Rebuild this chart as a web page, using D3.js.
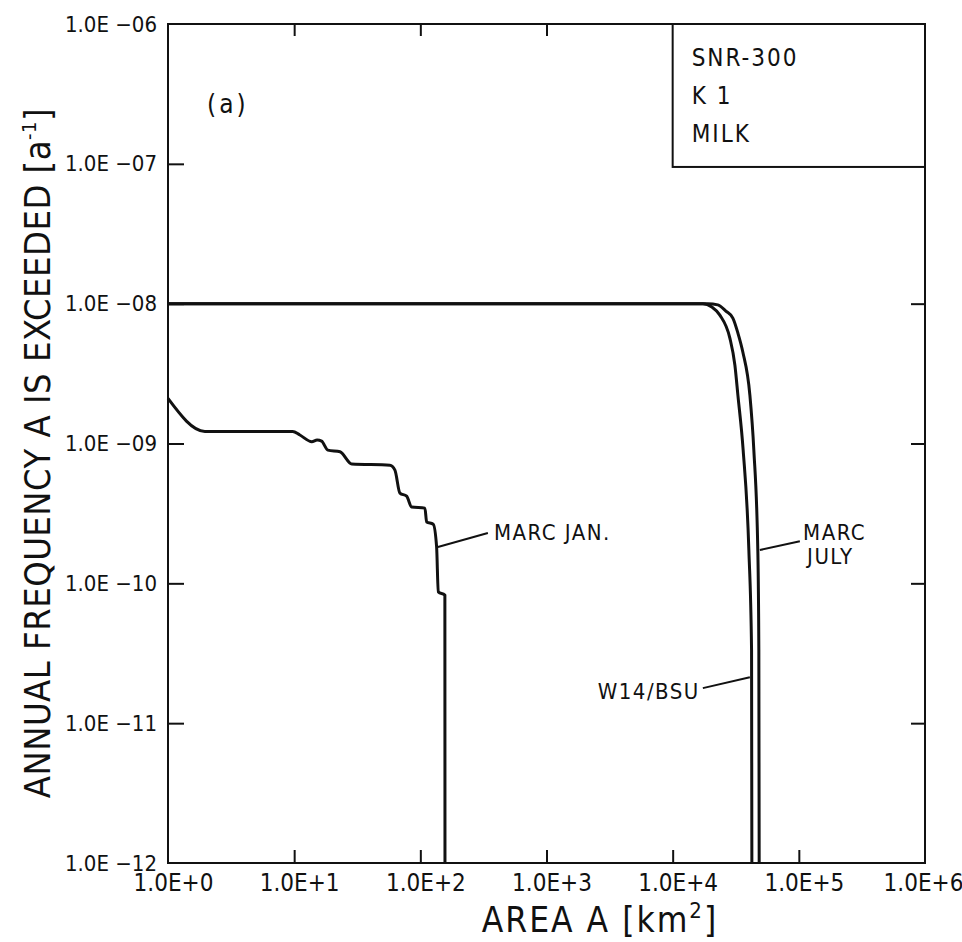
<!DOCTYPE html>
<html>
<head>
<meta charset="utf-8">
<script src="https://cdn.jsdelivr.net/npm/d3@7"></script>
<style>
  body { margin: 0; background: #fff; }
  text { font-family: 'DejaVu Sans Condensed', 'DejaVu Sans', sans-serif; font-stretch: condensed; fill: #111; }
</style>
</head>
<body>
<script>
// axis ticks
var areaTicks = [1, 10, 100, 1e3, 1e4, 1e5, 1e6];
var areaLabels = ["1.0E+0", "1.0E+1", "1.0E+2", "1.0E+3", "1.0E+4", "1.0E+5", "1.0E+6"];
var freqTicks = [1e-12, 1e-11, 1e-10, 1e-9, 1e-8, 1e-7, 1e-6];
var freqLabels = ["1.0E \u221212", "1.0E \u221211", "1.0E \u221210", "1.0E \u221209", "1.0E \u221208", "1.0E \u221207", "1.0E \u221206"];

// MARC JAN.
var marcJanA = [1, 1.96, 9.73, 11.1, 13.8, 15.2, 16.5, 18.5, 23.1, 28.6, 57.4, 62.9, 68.9, 77.9, 85.3, 108.7, 112.2, 126.5, 134.6, 138.7, 156.5, 156.8];
var marcJanF = [2.1e-9, 1.22e-9, 1.22e-9, 1.15e-9, 1.03e-9, 1.06e-9, 1.04e-9, 8.97e-10, 8.73e-10, 7.13e-10, 7.0e-10, 6.45e-10, 4.42e-10, 4.2e-10, 3.52e-10, 3.45e-10, 2.75e-10, 2.65e-10, 1.82e-10, 8.69e-11, 8.24e-11, 1e-12];

// W14/BSU
var w14A = [1, 17350, 20450, 23660, 28400, 31120, 32880, 36200, 40170, 42200, 42440];
var w14F = [1e-8, 1e-8, 9.46e-9, 8.28e-9, 5.67e-9, 3.64e-9, 2.22e-9, 8.97e-10, 1.73e-10, 3.33e-11, 1e-12];

// MARC JULY
var julyA = [1, 19000, 22810, 26410, 29990, 32880, 35980, 40920, 43990, 47300, 48200, 48500];
var julyF = [1e-8, 1e-8, 9.8e-9, 8.85e-9, 7.88e-9, 6.17e-9, 4.51e-9, 2.22e-9, 8.97e-10, 1.73e-10, 3.33e-11, 1e-12];

var legendLines = ["SNR-300", "K 1", "MILK"];

var w = 962, h = 942;
var x = d3.scaleLog().domain([1, 1e6]).range([168, 925]);
var y = d3.scaleLog().domain([1e-12, 1e-6]).range([863, 24]);

var svg = d3.select("body").append("svg")
    .attr("width", w)
    .attr("height", h);

function zip(a, f) { return a.map(function (d, i) { return [d, f[i]]; }); }

// axes, ticks inside
var bottom = svg.append("g")
    .attr("transform", "translate(0," + y(1e-12) + ")")
    .call(d3.axisBottom(x).tickValues(areaTicks).tickSize(-13).tickSizeOuter(0).tickPadding(11)
        .tickFormat(function (d, i) { return areaLabels[i]; }));

var left = svg.append("g")
    .attr("transform", "translate(" + x(1) + ",0)")
    .call(d3.axisLeft(y).tickValues(freqTicks).tickSize(-16).tickSizeOuter(0).tickPadding(11)
        .tickFormat(function (d, i) { return freqLabels[i]; }));

svg.append("g")
    .attr("transform", "translate(0," + y(1e-6) + ")")
    .call(d3.axisTop(x).tickValues(areaTicks.slice(1, -1)).tickSize(-12).tickSizeOuter(0).tickFormat(""));

svg.append("g")
    .attr("transform", "translate(" + x(1e6) + ",0)")
    .call(d3.axisRight(y).tickValues(freqTicks.slice(1, 5)).tickSize(-14).tickSizeOuter(0).tickFormat(""));

svg.selectAll(".domain").remove();
svg.selectAll(".tick line").attr("stroke", "#111").attr("stroke-width", 2);
bottom.selectAll(".tick").filter(function (d) { return d === 1 || d === 1e6; }).select("line").remove();
left.selectAll(".tick").filter(function (d) { return d === 1e-12 || d === 1e-6; }).select("line").remove();

bottom.selectAll("text").attr("font-size", 24).attr("fill", "#111")
    .attr("dx", function (d) { return d === 1e6 ? -2 : 5; });
left.selectAll("text").attr("font-size", 22).attr("fill", "#111");

// frame
svg.append("rect")
    .attr("x", x(1)).attr("y", y(1e-6))
    .attr("width", x(1e6) - x(1)).attr("height", y(1e-12) - y(1e-6))
    .attr("fill", "none").attr("stroke", "#111").attr("stroke-width", 2);

// curves
var line = d3.line()
    .x(function (d) { return x(d[0]); })
    .y(function (d) { return y(d[1]); })
    .curve(d3.curveMonotoneX);

[zip(marcJanA, marcJanF), zip(w14A, w14F), zip(julyA, julyF)].forEach(function (s) {
    svg.append("path")
        .datum(s)
        .attr("d", line)
        .attr("fill", "none")
        .attr("stroke", "#111")
        .attr("stroke-width", 3)
        .attr("stroke-linejoin", "round");
});

// curve labels with leader lines (data coords)
var notes = [
    { lines: ["MARC  JAN."], from: [137.8, 1.82e-10], to: [343, 2.29e-10], at: [383, 2.32e-10], anchor: "start" },
    { lines: ["W14/BSU"], from: [40900, 2.13e-11], to: [17350, 1.78e-11], at: [16430, 1.7e-11], anchor: "end" },
    { lines: ["MARC", "JULY"], from: [49100, 1.73e-10], to: [101900, 2.0e-10], at: [108000, 2.32e-10], anchor: "start" }
];

notes.forEach(function (n) {
    svg.append("line")
        .attr("x1", x(n.from[0])).attr("y1", y(n.from[1]))
        .attr("x2", x(n.to[0])).attr("y2", y(n.to[1]))
        .attr("stroke", "#111").attr("stroke-width", 2);
    var t = svg.append("text")
        .attr("x", x(n.at[0])).attr("y", y(n.at[1]))
        .attr("text-anchor", n.anchor)
        .attr("font-size", 22)
        .attr("letter-spacing", 1.5);
    n.lines.forEach(function (s, i) {
        t.append("tspan")
            .attr("x", x(n.at[0]) + i * 4)
            .attr("dy", i === 0 ? "0.36em" : "1.1em")
            .text(s);
    });
});

// legend box
svg.append("rect")
    .attr("x", x(1e4)).attr("y", y(1e-6))
    .attr("width", x(1e6) - x(1e4)).attr("height", y(9.5e-8) - y(1e-6))
    .attr("fill", "#fff").attr("stroke", "#111").attr("stroke-width", 2);

svg.selectAll(".legend")
    .data(legendLines)
    .enter().append("text")
    .attr("class", "legend")
    .attr("x", x(1e4) + 19)
    .attr("y", function (d, i) { return 66 + i * 38; })
    .attr("font-size", 24)
    .attr("letter-spacing", 2)
    .text(function (d) { return d; });

svg.append("text")
    .attr("x", 207).attr("y", 113)
    .attr("font-size", 26)
    .attr("letter-spacing", 3)
    .text("(a)");

// axis titles
var yt = svg.append("text")
    .attr("transform", "translate(50," + 453 + ")rotate(-90)")
    .attr("text-anchor", "middle")
    .attr("font-size", 36)
    .attr("letter-spacing", 0.5);
yt.append("tspan").text("ANNUAL FREQUENCY A IS EXCEEDED [a");
yt.append("tspan").attr("dy", -14).attr("font-size", 20).text("-1");
yt.append("tspan").attr("dy", 14).text("]");

var xt = svg.append("text")
    .attr("x", 600).attr("y", 932)
    .attr("text-anchor", "middle")
    .attr("font-size", 35)
    .attr("letter-spacing", 2);
xt.append("tspan").text("AREA  A [km");
xt.append("tspan").attr("dy", -14).attr("font-size", 22).text("2");
xt.append("tspan").attr("dy", 14).text("]");
</script>
</body>
</html>
